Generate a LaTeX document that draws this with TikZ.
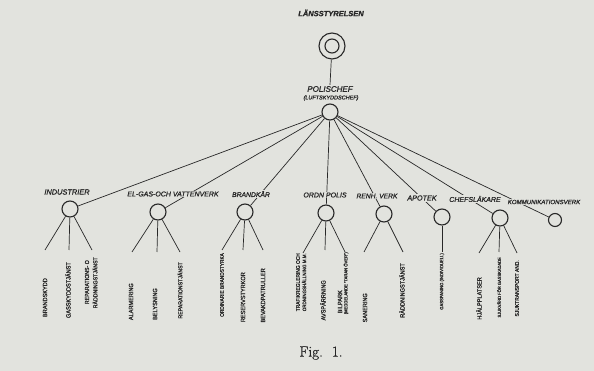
\documentclass[tikz,border=0pt]{standalone}
\usepackage{fontspec}
\setmainfont{Latin Modern Roman}
\newfontfamily\handfont[FakeBold=1.2]{Liberation Sans}
\newfontfamily\rotfontfam[FakeStretch=0.9,FakeBold=1.6]{Liberation Sans}
\newfontfamily\figfont[FakeBold=0.8]{Latin Modern Roman}
\definecolor{paper}{RGB}{226,227,222}
\definecolor{ink}{RGB}{40,40,40}
\tikzset{
  circ/.style={circle, draw=ink, line width=1.1pt, minimum size=16pt, inner sep=0pt},
  conn/.style={draw=ink, line width=0.7pt},
  lab/.style={font=\handfont\itshape\fontsize{#1}{#1}\selectfont, text=ink, fill=paper, inner sep=1pt},
  lab/.default=7,
  rot/.style={rotate=90, anchor=east, inner sep=0pt, text=ink, font=\rotfontfam\fontsize{#1}{#1}\selectfont},
  rot/.default=6.2
}
\begin{document}
\begin{tikzpicture}[x=1pt,y=-1pt]
\useasboundingbox[fill=paper] (0,0) rectangle (594,371);

% top
\node[font=\handfont\itshape\bfseries\fontsize{7.5}{7.5}\selectfont, text=ink, inner sep=1pt] (lanst) at (331,13) {LÄNSSTYRELSEN};
\node[circ, minimum size=26pt] (lans) at (332,46) {};
\node[circ, minimum size=14pt] (lansin) at (332,46) {};
\node[font=\handfont\itshape\fontsize{8}{8}\selectfont, text=ink, inner sep=1pt] (polt) at (330,89) {POLISCHEF};
\node[font=\handfont\itshape\fontsize{5.5}{5.5}\selectfont, text=ink, inner sep=0.5pt] (polt2) at (331,98) {(LUFTSKYDDSCHEF)};
\draw[conn] (lans) -- (polt.north);
\node[circ] (pol) at (330,112) {};

% second level circles
\node[circ] (ind) at (70,209) {};
\node[circ] (elg) at (158,212) {};
\node[circ] (bra) at (245,212) {};
\node[circ] (ord) at (326,213) {};
\node[circ] (ren) at (384,214) {};
\node[circ] (apo) at (442,217) {};
\node[circ] (che) at (500,218) {};
\node[circ, minimum size=13pt] (kom) at (555,220) {};

\foreach \n in {ind,elg,bra,ord,ren,apo,che,kom}
  \draw[conn] (pol) -- (\n);

% second level labels (drawn over connectors)
\node[lab=7.4] (indt) at (67,192) {INDUSTRIER};
\node[lab=7] (elgt) at (173,194) {EL-GAS-OCH VATTENVERK};
\node[lab=6.8] (brat) at (251,194) {BRANDKÅR};
\node[lab=7] (ordt) at (325,195) {ORDN POLIS};
\node[lab=6.7] (rent) at (377,196) {RENH. VERK};
\node[lab=7.2] (apot) at (422,198) {APOTEK};
\node[lab=7] (chet) at (475,199) {CHEFSLÄKARE};
\node[lab=6.1] (komt) at (544,202) {KOMMUNIKATIONSVERK};

% third level end points
\coordinate (i1) at (45,250);
\coordinate (i2) at (69,250);
\coordinate (i3) at (92,250);
\coordinate (e1) at (132,252);
\coordinate (e2) at (157,252);
\coordinate (e3) at (180,252);
\coordinate (b1) at (222,250);
\coordinate (b2) at (243,250);
\coordinate (b3) at (263,250);
\coordinate (o1) at (303,253);
\coordinate (o2) at (325,250);
\coordinate (o3) at (345,252);
\coordinate (r1) at (364,252);
\coordinate (r2) at (403,252);
\coordinate (a1) at (442,252);
\coordinate (c1) at (479,253);
\coordinate (c2) at (499,252);
\coordinate (c3) at (517,253);

\foreach \p/\c in {ind/i1,ind/i2,ind/i3,elg/e1,elg/e2,elg/e3,bra/b1,bra/b2,bra/b3,ord/o1,ord/o2,ord/o3,ren/r1,ren/r2,apo/a1,che/c1,che/c2,che/c3}
  \draw[conn] (\p) -- (\c);

% rotated texts
\node[rot] (ti1) at (45,278) {BRANDSKYDD};
\node[rot] (ti2) at (68,262) {GASSKYDDSTJÄNST};
\node[rot=5.8] (ti3) at (87,260) {REPARATIONS- O};
\node[rot=5.8] (ti4) at (95,257) {RÄDDNINGSTJÄNST};

\node[rot] (te1) at (131,283) {ALARMERING};
\node[rot] (te2) at (155,288) {BELYSNING};
\node[rot=5.8] (te3) at (180,262) {REPARATIONSTJÄNST};

\node[rot=5.3] (tb1) at (222,253) {ORDINARIE BRANDSTYRKA};
\node[rot] (tb2) at (243,272) {RESERVSTYRKOR};
\node[rot] (tb3) at (263,268) {BEVAKDPATRULLER};

\node[rot=5.4] (to1) at (298,253) {TRAFIKREGLERING OCH};
\node[rot=5] (to2) at (304,253) {ORDNINGSHÅLLNING M.M.};
\node[rot] (to3) at (323,280) {AVSPÄRRNING};
\node[rot] (to4) at (340,290) {BILPARK};
\node[rot=4.6] (to5) at (346,252) {(MEDDELANDE ”TARAN ÖVER”)};

\node[rot] (tr1) at (365,293) {SANERING};
\node[rot] (tr2) at (402,263) {RÄDDNINGSTJÄNST};

\node[rot=4.6] (ta1) at (442,253) {GASSPANING (INDIVIDUELL)};

\node[rot] (tc1) at (479,277) {HJÄLPPLATSER};
\node[rot=4.5] (tc2) at (499,257) {SJUKVÅRD FÖR GASSKADADE};
\node[rot=5.5] (tc3) at (517,260) {SJUKTRANSPORT AND.};

% caption
\node[font=\figfont\fontsize{15}{18}\selectfont, text=black!85, inner sep=0pt] (fig) at (321,353) {Fig.\ \ 1.};
\end{tikzpicture}
\end{document}
